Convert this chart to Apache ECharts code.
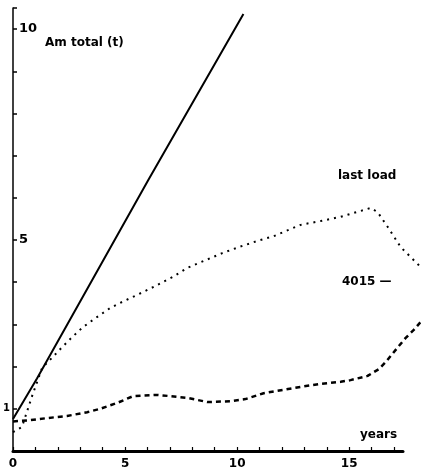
<!DOCTYPE html>
<html>
<head>
<meta charset="utf-8">
<script src="https://cdn.jsdelivr.net/npm/echarts@6/dist/echarts.min.js"></script>
<style>
html,body{margin:0;padding:0;background:#fff;}
#c{width:421px;height:472px;}
</style>
</head>
<body>
<div id="c"></div>
<script>
// Series values: [years, Am total (t)]
const amTotal = [[0,0.76],[1.07,1.72],[6.03,6.42],[10.28,10.36]];
const lastLoad = [[0,0.45],[0.40,0.57],[0.85,1.30],[1.30,1.97],[1.65,2.16],[2.19,2.46],[2.64,2.70],[3.13,2.94],[3.76,3.18],[4.34,3.39],[4.78,3.51],[5.54,3.70],[6.35,3.91],[7.11,4.12],[7.78,4.34],[8.49,4.50],[9.34,4.69],[10.06,4.83],[10.91,4.98],[11.62,5.09],[12.83,5.36],[13.72,5.45],[14.62,5.55],[15.51,5.69],[15.96,5.76],[16.27,5.66],[16.72,5.31],[17.30,4.83],[18.19,4.36]];
const load4015 = [[0,0.70],[0.76,0.73],[1.52,0.78],[2.41,0.83],[3.31,0.92],[3.89,1.00],[4.65,1.14],[5.36,1.30],[6.44,1.33],[7.02,1.30],[7.78,1.26],[8.67,1.16],[9.70,1.18],[10.37,1.23],[11.18,1.37],[12.07,1.45],[12.83,1.52],[13.72,1.59],[14.62,1.64],[15.06,1.68],[15.82,1.78],[16.32,1.94],[16.63,2.11],[17.17,2.46],[17.52,2.68],[17.88,2.87],[18.19,3.06]];
const xTickLabels = [0,5,10,15];
const yInsideLabels = [5,10];
const yOutsideLabels = [1];
const texts = {yTitle:'Am total (t)', xTitle:'years', s1:'last load', s2:'4015 —'};

// axis extents
const X_AXIS_MAX = 17.4;   // drawn axis length
const Y_MAX = 10.5;
const GRID_L = 13, GRID_R = 18, GRID_T = 8, GRID_B = 21, W = 421;
// data grid reaches the right edge of the picture with the same x scale
const X_DATA_MAX = X_AXIS_MAX * (W - GRID_L) / (W - GRID_L - GRID_R);

const FONT = 'DejaVu Sans';
const chart = echarts.init(document.getElementById('c'), null, {renderer:'canvas'});
const yBase = {type:'value', min:0, max:Y_MAX, interval:1, splitLine:{show:false}};
const hiddenAxis = {show:false, axisLine:{show:false}, axisTick:{show:false}, axisLabel:{show:false}};
chart.setOption({
  backgroundColor:'#fff',
  animation:false,
  grid:[
    {left:GRID_L, right:GRID_R, top:GRID_T, bottom:GRID_B, containLabel:false},
    {left:GRID_L, right:0, top:GRID_T, bottom:GRID_B, containLabel:false}
  ],
  xAxis:[{
    gridIndex:0, type:'value', min:0, max:X_AXIS_MAX, interval:1,
    axisLine:{lineStyle:{color:'#000', width:3}},
    axisTick:{inside:true, length:4, lineStyle:{color:'#000', width:1.2}},
    splitLine:{show:false},
    axisLabel:{
      color:'#000', fontFamily:FONT, fontWeight:'bold', fontSize:12, margin:7,
      showMaxLabel:false,
      formatter:v => xTickLabels.includes(v) ? String(v) : ''
    }
  }, Object.assign({gridIndex:1, type:'value', min:0, max:X_DATA_MAX, splitLine:{show:false}}, hiddenAxis)],
  yAxis:[
    Object.assign({}, yBase, {
      gridIndex:0,
      axisLine:{show:true, lineStyle:{color:'#000', width:1.5}},
      axisTick:{inside:true, length:4, lineStyle:{color:'#000', width:1.5}},
      axisLabel:{inside:true, color:'#000', fontFamily:FONT, fontWeight:'bold', fontSize:13, margin:6,
        formatter:v => yInsideLabels.includes(v) ? String(v) : ''}
    }),
    Object.assign({}, yBase, {
      gridIndex:0, position:'left',
      axisLine:{show:false}, axisTick:{show:false},
      axisLabel:{color:'#000', fontFamily:FONT, fontWeight:'bold', fontSize:10, margin:3,
        formatter:v => yOutsideLabels.includes(v) ? String(v) : ''}
    }),
    Object.assign({}, yBase, {gridIndex:1}, hiddenAxis)
  ],
  series:[
    {type:'line', xAxisIndex:1, yAxisIndex:2, data:amTotal, showSymbol:false, clip:false,
      lineStyle:{color:'#000', width:2}},
    {type:'line', xAxisIndex:1, yAxisIndex:2, data:lastLoad, showSymbol:false, clip:false,
      lineStyle:{color:'#000', width:2, type:[2,5]}},
    {type:'line', xAxisIndex:1, yAxisIndex:2, data:load4015, showSymbol:false, clip:false,
      lineStyle:{color:'#000', width:2.5, type:[5,4]}}
  ],
  graphic:[
    {type:'text', left:45, top:37, style:{text:texts.yTitle, fill:'#000', font:'bold 12px "'+FONT+'"'}},
    {type:'text', left:338, top:170, style:{text:texts.s1, fill:'#000', font:'bold 12px "'+FONT+'"'}},
    {type:'text', left:342, top:276, style:{text:texts.s2, fill:'#000', font:'bold 12px "'+FONT+'"'}},
    {type:'text', left:360, top:429, style:{text:texts.xTitle, fill:'#000', font:'bold 12px "'+FONT+'"'}}
  ]
});
</script>
</body>
</html>
